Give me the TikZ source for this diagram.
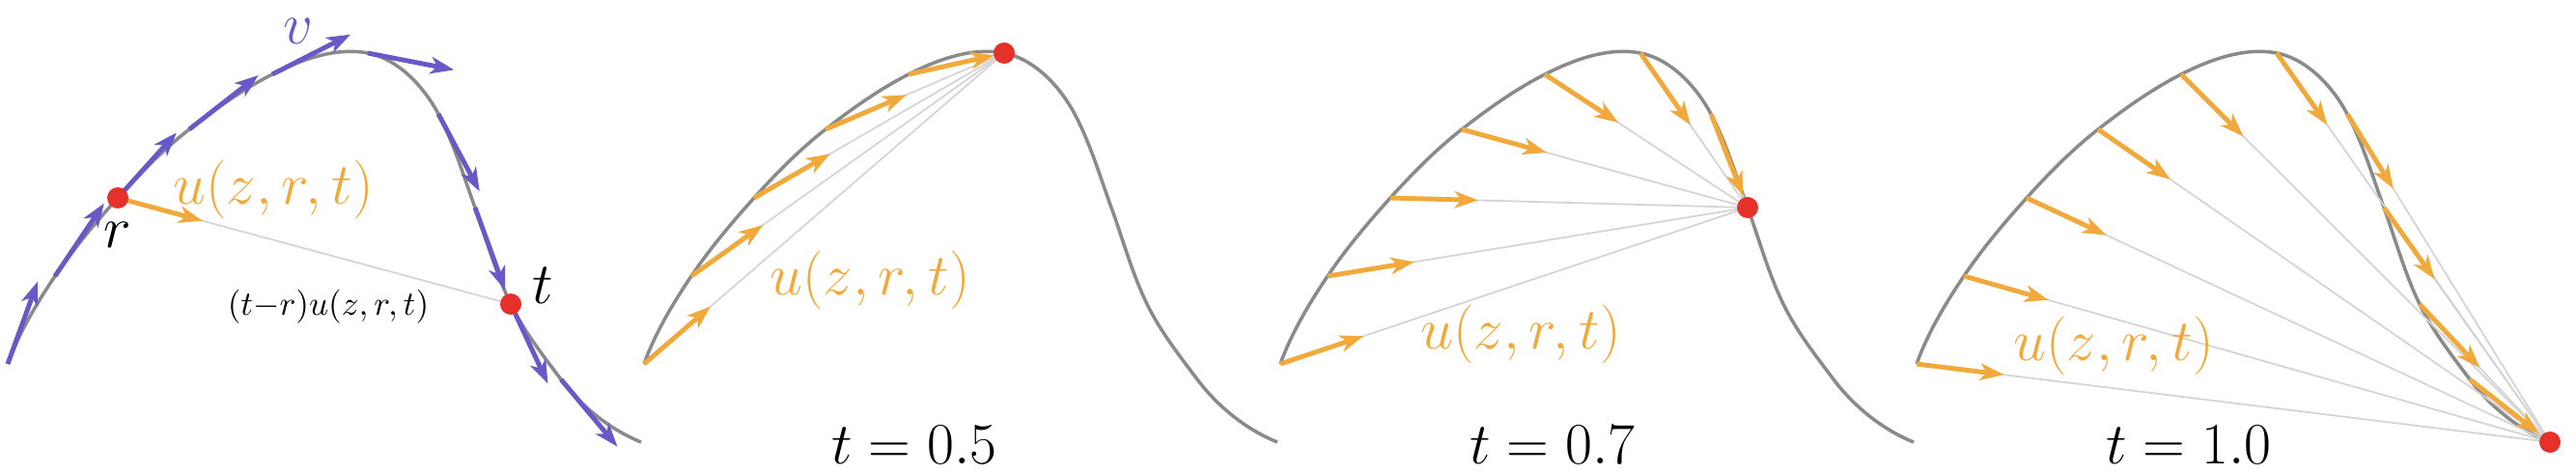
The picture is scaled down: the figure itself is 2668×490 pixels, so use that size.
\documentclass[tikz,border=0pt]{standalone}
\usepackage{amsmath, amssymb}
\usetikzlibrary{positioning}
\usetikzlibrary{calc}
\usetikzlibrary{arrows.meta}

\definecolor{curvegray}{HTML}{8A8A8A}
\definecolor{chordgray}{HTML}{D4D4D4}
\definecolor{uorange}{HTML}{F2A93B}
\definecolor{vpurple}{HTML}{6759C8}
\definecolor{dotred}{HTML}{E5312A}

\begin{document}
\begin{tikzpicture}[x=0.1mm,y=0.1mm,>={Stealth[length=7pt,width=5pt,inset=2pt]},
    curve/.style={draw=curvegray,line width=1pt,looseness=0.85},
    chord/.style={draw=chordgray,line width=0.5pt},
    uvec/.style={->,draw=uorange,line width=1.4pt},
    vvec/.style={->,draw=vpurple,line width=1.4pt},
    dot/.style={circle,fill=dotred,inner sep=0pt,minimum size=2.2mm},
    lab/.style={inner sep=0pt,font=\LARGE},
    traj/.pic={
      \foreach \k/\x/\y in {0/8/113,1/57/204,2/122/285,3/196/356,4/282/413,5/381/435,
                            6/454/372,7/492/275,8/529/175,9/581/97,10/664/32}
        \coordinate (-\k) at (\x,\y);
      \draw[curve] (-0) to[out=70,in=236] (-1) to[out=56,in=228] (-2)
        to[out=48,in=218] (-3) to[out=38,in=207] (-4) to[out=27,in=169] (-5)
        to[out=-11,in=118] (-6) to[out=-62,in=110] (-7) to[out=-70,in=116] (-8)
        to[out=-64,in=127] (-9) to[out=-53,in=158] (-10);
    }]
    \useasboundingbox (0,0) rectangle (2668,490);

    \pic (a) at (0,0) {traj};
    \pic (b) at (659,0) {traj};
    \pic (c) at (1318,0) {traj};
    \pic (d) at (1977,0) {traj};

    % velocity along the path, r and t marked
    \draw[chord] (a-2) -- (a-8);
    \foreach \k/\ang in {0/70,1/56,2/48,3/38,4/27,5/-11,6/-62,7/-70,8/-65,9/-50}
      \draw[vvec] (a-\k) -- ++(\ang:9.1mm);
    \draw[uvec] (a-2) -- ($(a-2)!9.1mm!(a-8)$);
    \node[dot] (r) at (a-2) {};
    \node[dot] (t) at (a-8) {};
    \node[lab, below=2.5mm of a-2] (rlab) {$r$};
    \node[lab, above right=0mm and 2.2mm of a-8] (tlab) {$t$};
    \node[lab, text=vpurple] (vlab) at (309,458) {$v$};
    \node[lab, text=uorange] (ua) at (283,294) {$u(z,r,t)$};
    \node[inner sep=0pt] (diff) at (340,172) {$(t{-}r)u(z,r,t)$};

    % the three snapshots
    \foreach \p/\n/\m in {b/5/4, c/7/6, d/10/9} {
      \foreach \k in {0,...,\m}
        \draw[chord] (\p-\k) -- (\p-\n);
      \foreach \k in {0,...,\m}
        \draw[uvec] (\p-\k) -- ($(\p-\k)!9.1mm!(\p-\n)$);
      \node[dot] (\p-dot) at (\p-\n) {};
    }
    \node[lab, text=uorange] (ub) at (901,200) {$u(z,r,t)$};
    \node[lab, text=uorange] (uc) at (1575,144) {$u(z,r,t)$};
    \node[lab, text=uorange] (ud) at (2189,132) {$u(z,r,t)$};
    \node[lab, anchor=base] (tb) at (947,10) {$t=0.5$};
    \node[lab, anchor=base] (tc) at (1608,10) {$t=0.7$};
    \node[lab, anchor=base] (td) at (2267,10) {$t=1.0$};
\end{tikzpicture}
\end{document}
